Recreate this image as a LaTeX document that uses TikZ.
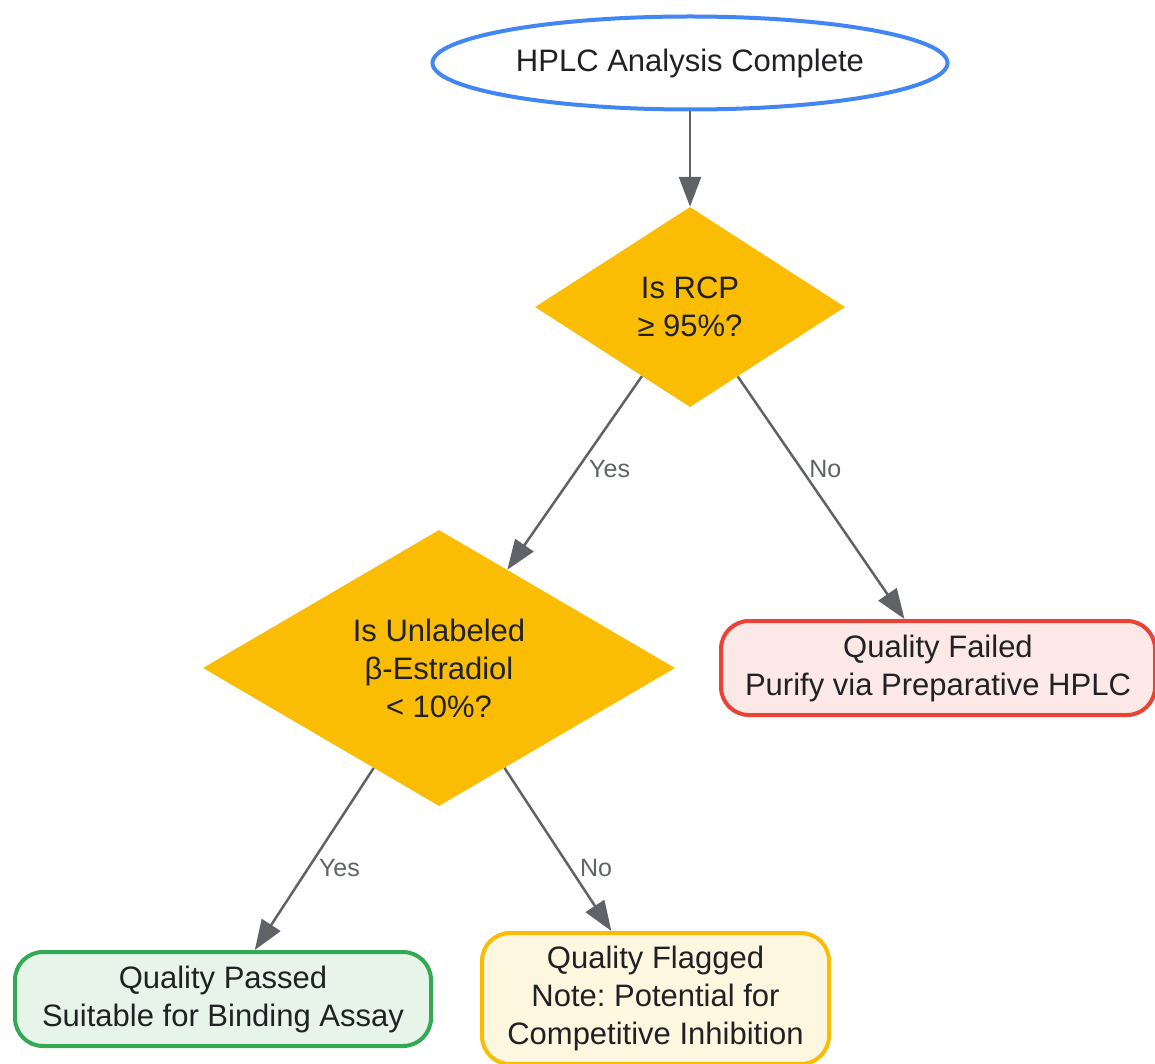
\documentclass[tikz,border=0pt]{standalone}
\usepackage{fontspec}
\setmainfont{Liberation Sans}
\usetikzlibrary{shapes.geometric,arrows.meta}
\frenchspacing
\definecolor{txt}{HTML}{202124}
\definecolor{edgec}{HTML}{5F6368}
\definecolor{gold}{HTML}{FBBC04}
\definecolor{blueS}{HTML}{4285F4}
\definecolor{redS}{HTML}{EA4335}
\definecolor{redF}{HTML}{FCE8E6}
\definecolor{greenS}{HTML}{34A853}
\definecolor{greenF}{HTML}{E6F4EA}
\definecolor{yelF}{HTML}{FEF7E0}
\tikzset{
  base/.style={text=txt, font=\fontsize{31}{38}\selectfont\frenchspacing, align=center, inner sep=0pt},
  startnode/.style={base, ellipse, draw=blueS, line width=4pt, fill=white, minimum width=515pt, minimum height=93pt},
  decision/.style={base, diamond, fill=gold},
  endbox/.style={base, rectangle, rounded corners=28pt, line width=4pt},
  conn/.style={draw=edgec, line width=2.5pt, -{Triangle[length=30pt,width=22pt]}},
  lbl/.style={text=edgec, font=\fontsize{25}{28}\selectfont, inner sep=0pt}
}
\begin{document}
\begin{tikzpicture}[x=1pt,y=-1pt]
\useasboundingbox (0,0) rectangle (1155,1064);
\node[startnode] (start) at (690,63) {HPLC Analysis Complete};
\node[decision, aspect=1.55, minimum width=310pt, minimum height=200pt] (d1) at (690,307) {Is RCP\\≥ 95\%?};
\node[decision, aspect=1.71, minimum width=472pt, minimum height=276pt] (d2) at (439,668) {Is Unlabeled\\β-Estradiol\\ < 10\%?};
\node[endbox, draw=redS, fill=redF, minimum width=434pt, minimum height=94pt] (fail) at (938,668) {Quality Failed\\Purify via Preparative HPLC};
\node[endbox, draw=greenS, fill=greenF, minimum width=416pt, minimum height=94pt] (pass) at (223,999) {Quality Passed\\Suitable for Binding Assay};
\node[endbox, draw=gold, fill=yelF, minimum width=347pt, minimum height=131pt] (flag) at (655.5,998.5) {Quality Flagged\\Note: Potential for\\Competitive Inhibition};
\draw[conn] (start) -- (d1);
\draw[conn] (d1) -- node[lbl, pos=0.5, xshift=35pt, yshift=4pt] {Yes} (d2);
\draw[conn] (d1) -- node[lbl, pos=0.382, xshift=24pt] {No} (fail);
\draw[conn] (d2) -- node[lbl, pos=0.549, xshift=31pt] {Yes} (pass);
\draw[conn] (d2) -- node[lbl, pos=0.613, xshift=26pt] {No} (flag);
\end{tikzpicture}
\end{document}
